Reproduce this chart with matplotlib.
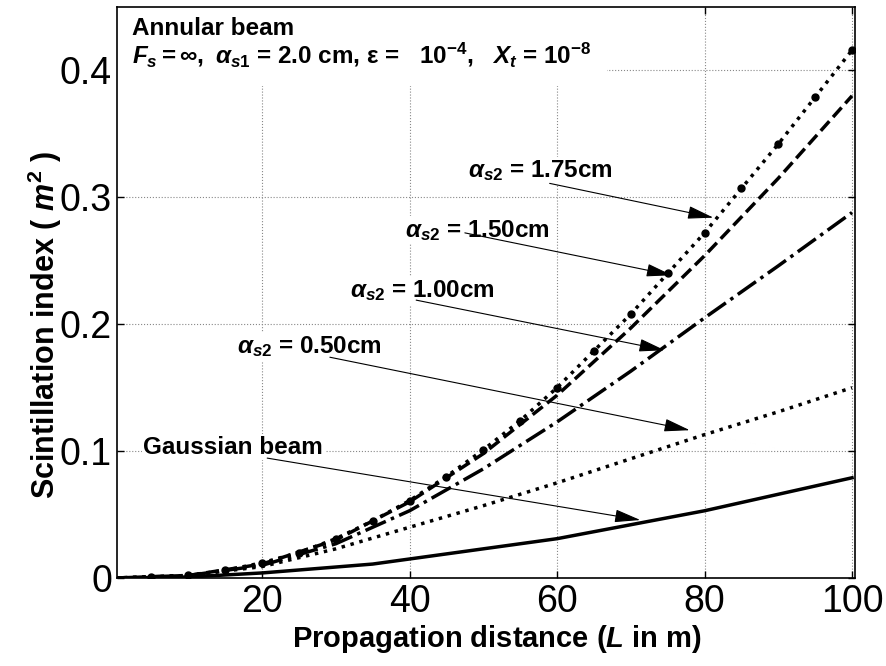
import matplotlib
matplotlib.use("Agg")
import matplotlib.pyplot as plt
from matplotlib.patches import Rectangle

plt.rcParams['font.family'] = ['Liberation Sans', 'DejaVu Sans']
plt.rcParams['mathtext.fontset'] = 'custom'
plt.rcParams['mathtext.rm'] = 'Liberation Sans:bold'
plt.rcParams['mathtext.bf'] = 'Liberation Sans:bold'
plt.rcParams['mathtext.it'] = 'Liberation Sans:bold:italic'

# scintillation index vs propagation distance
L_pts = [5, 10, 15, 20, 25, 30, 35, 40, 45, 50, 55, 60, 65, 70, 75, 80, 85, 90, 95, 100]
si_175 = [0.0005, 0.002, 0.006, 0.012, 0.020, 0.031, 0.045, 0.061, 0.080, 0.101,
          0.124, 0.150, 0.179, 0.208, 0.240, 0.272, 0.307, 0.342, 0.379, 0.416]

L_ten = [0, 10, 20, 30, 40, 50, 60, 70, 80, 90, 100]
si_150 = [0, 0.002, 0.011, 0.030, 0.060, 0.098, 0.144, 0.197, 0.254, 0.315, 0.380]
si_100 = [0, 0.002, 0.010, 0.027, 0.053, 0.086, 0.123, 0.163, 0.205, 0.246, 0.288]
si_050 = [0, 0.002, 0.009, 0.023, 0.040, 0.057, 0.075, 0.094, 0.113, 0.131, 0.150]

L_gauss = [0, 10, 20, 35, 60, 80, 100]
si_gauss = [0, 0.0008, 0.004, 0.011, 0.031, 0.053, 0.079]

# label text, text position, arrow tail, arrow head
labels = [r'$\alpha_{s2}$ = 1.75cm', r'$\alpha_{s2}$ = 1.50cm',
          r'$\alpha_{s2}$ = 1.00cm', r'$\alpha_{s2}$ = 0.50cm', 'Gaussian beam']
label_xy = [(47.9, 0.316), (39.4, 0.269), (31.9, 0.221), (16.6, 0.177), (3.9, 0.098)]
arrow_tail = [(59.0, 0.311), (47.5, 0.272), (40.9, 0.219), (29.2, 0.174), (20.7, 0.0945)]
arrow_head = [(81.2, 0.284), (75.6, 0.2386), (74.6, 0.1795), (78.0, 0.1165), (71.3, 0.0457)]

fig = plt.figure(figsize=(8.86, 6.66), dpi=100)
ax = fig.add_axes([0.1326, 0.1321, 0.8324, 0.8574])

ax.plot(L_pts, si_175, ':', color='k', lw=2.5, marker='o', ms=5)
ax.plot(L_ten, si_150, '--', color='k', lw=2.5)
ax.plot(L_ten, si_100, '-.', color='k', lw=2.5)
ax.plot(L_ten, si_050, ':', color='k', lw=2.5)
ax.plot(L_gauss, si_gauss, '-', color='k', lw=2.5)

ax.set_xlim(0.4, 100.4)
ax.set_ylim(0, 0.45)
ax.set_xticks([20, 40, 60, 80, 100])
ax.set_yticks([0, 0.1, 0.2, 0.3, 0.4])
ax.set_yticklabels(['0', '0.1', '0.2', '0.3', '0.4'])
ax.tick_params(direction='in', top=True, right=True, length=5, width=1,
               labelsize=27, pad=4)
for sp in ax.spines.values():
    sp.set_linewidth(1.2)
ax.grid(True, linestyle=':', color='#888888', lw=0.8)

ax.set_xlabel(r'Propagation distance ($L$ in m)', fontsize=21, fontweight='bold')
ax.set_ylabel(r'Scintillation index ( $m^2$ )', fontsize=22, fontweight='bold')
ax.xaxis.set_label_coords(0.5146, -0.078)
ax.yaxis.set_label_coords(-0.072, 0.443)

# header box
ax.add_patch(Rectangle((0.4, 0.388), 66.4, 0.062, facecolor='white',
                       edgecolor='none', zorder=1.6))
ax.text(2.4, 0.4276, 'Annular beam', fontsize=17.5, fontweight='bold', va='baseline')
ax.text(2.4, 0.406, r'$F_s = \infty,\ \alpha_{s1}$ = 2.0 cm, ε =   10$^{-4}$,   $X_t$ = 10$^{-8}$',
        fontsize=17.5, fontweight='bold', va='baseline')

for txt, pos, tail, head in zip(labels, label_xy, arrow_tail, arrow_head):
    ax.text(pos[0], pos[1], txt, fontsize=17.5, fontweight='bold', va='baseline',
            zorder=3, bbox=dict(facecolor='white', edgecolor='none', pad=1))
    ax.annotate('', xy=head, xytext=tail, zorder=4,
                arrowprops=dict(arrowstyle='-|>,head_length=1.6,head_width=0.4',
                                color='k', lw=0.8, shrinkA=0, shrinkB=0))

fig.savefig('out.png', dpi=100)
